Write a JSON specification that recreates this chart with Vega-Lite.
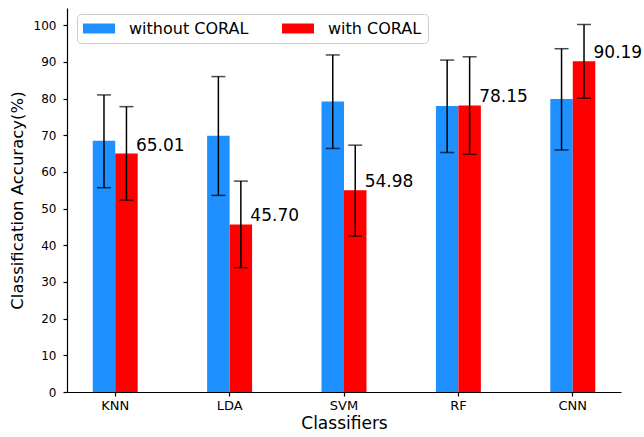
{
  "$schema": "https://vega.github.io/schema/vega-lite/v6.json",
  "width": 554,
  "height": 384,
  "autosize": {"type": "none"},
  "padding": {"left": 67, "top": 8, "right": 23, "bottom": 45},
  "background": "white",
  "config": {
    "view": {"stroke": null},
    "font": "DejaVu Sans",
    "axis": {"labelFont": "DejaVu Sans", "titleFont": "DejaVu Sans", "labelColor": "black", "titleColor": "black", "domainColor": "black", "tickColor": "black", "grid": false, "titleFontWeight": "normal", "domainWidth": 1.2, "tickWidth": 1.2}
  },
  "data": {
    "values": [
      {"classifier": "KNN", "method": "without CORAL", "acc": 68.5, "lo": 55.7, "hi": 81.0},
      {"classifier": "KNN", "method": "with CORAL", "acc": 65.01, "lo": 52.3, "hi": 77.8},
      {"classifier": "LDA", "method": "without CORAL", "acc": 69.9, "lo": 53.6, "hi": 86.0},
      {"classifier": "LDA", "method": "with CORAL", "acc": 45.70, "lo": 33.9, "hi": 57.5},
      {"classifier": "SVM", "method": "without CORAL", "acc": 79.2, "lo": 66.4, "hi": 91.9},
      {"classifier": "SVM", "method": "with CORAL", "acc": 54.98, "lo": 42.5, "hi": 67.3},
      {"classifier": "RF", "method": "without CORAL", "acc": 78.0, "lo": 65.3, "hi": 90.5},
      {"classifier": "RF", "method": "with CORAL", "acc": 78.15, "lo": 64.8, "hi": 91.4},
      {"classifier": "CNN", "method": "without CORAL", "acc": 79.9, "lo": 66.0, "hi": 93.6},
      {"classifier": "CNN", "method": "with CORAL", "acc": 90.19, "lo": 80.1, "hi": 100.2}
    ]
  },
  "encoding": {
    "x": {
      "field": "classifier", "type": "nominal", "sort": ["KNN", "LDA", "SVM", "RF", "CNN"],
      "scale": {"paddingInner": 0.607, "paddingOuter": 0.225},
      "axis": {"title": "Classifiers", "labelAngle": 0, "labelFontSize": 13, "titleFontSize": 17, "tickSize": 4, "labelPadding": 3, "titlePadding": 3}
    },
    "xOffset": {"field": "method", "type": "nominal", "sort": ["without CORAL", "with CORAL"], "scale": {"paddingInner": 0, "paddingOuter": 0}},
    "y": {
      "field": "acc", "type": "quantitative",
      "scale": {"domain": [0, 104.7], "nice": false, "zero": true},
      "axis": {"title": "Classification Accuracy(%)", "values": [0,10,20,30,40,50,60,70,80,90,100], "labelOverlap": false, "labelFontSize": 12, "titleFontSize": 16.5, "tickSize": 4, "labelPadding": 7, "titlePadding": 8}
    }
  },
  "layer": [
    {
      "mark": {"type": "bar"},
      "encoding": {
        "color": {
          "field": "method", "type": "nominal",
          "scale": {"domain": ["without CORAL", "with CORAL"], "range": ["#1E90FF", "#FF0000"]},
          "legend": {
            "title": null, "orient": "none", "legendX": 10, "legendY": 6, "direction": "horizontal",
            "symbolType": "M-1.0625,-0.625H2.9375V0.625H-1.0625Z", "symbolSize": 256, "symbolStrokeWidth": 0,
            "labelFontSize": 16, "labelFont": "DejaVu Sans", "labelColor": "black", "labelOffset": 29.5,
            "columnPadding": 33, "padding": 6.5, "strokeColor": "#cccccc", "fillColor": "white", "cornerRadius": 4
          }
        }
      }
    },
    {
      "mark": {"type": "rule", "color": "black", "strokeWidth": 1.5},
      "encoding": {"y": {"field": "lo", "type": "quantitative"}, "y2": {"field": "hi"}}
    },
    {
      "mark": {"type": "tick", "color": "black", "size": 14, "thickness": 1.5, "orient": "horizontal"},
      "encoding": {"y": {"field": "lo", "type": "quantitative"}}
    },
    {
      "mark": {"type": "tick", "color": "black", "size": 14, "thickness": 1.5, "orient": "horizontal"},
      "encoding": {"y": {"field": "hi", "type": "quantitative"}}
    },
    {
      "transform": [{"filter": "datum.method === 'with CORAL'"}],
      "mark": {"type": "text", "align": "left", "baseline": "alphabetic", "dx": 9.5, "dy": -3, "fontSize": 17, "font": "DejaVu Sans", "color": "black"},
      "encoding": {
        "text": {"field": "acc", "type": "quantitative", "format": ".2f"}
      }
    }
  ]
}
